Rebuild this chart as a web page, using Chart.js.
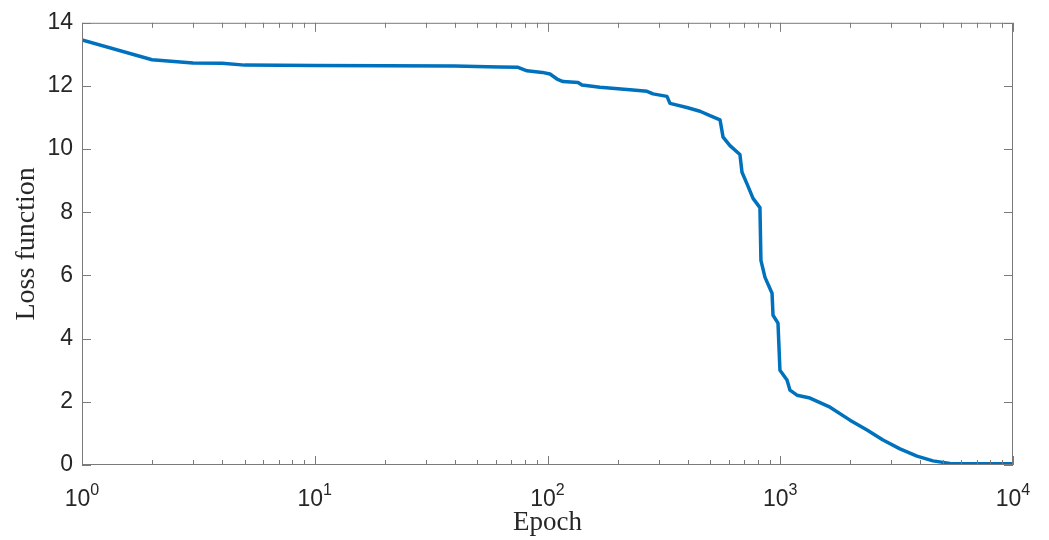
<!DOCTYPE html>
<html>
<head>
<meta charset="utf-8">
<script src="https://cdn.jsdelivr.net/npm/chart.js@4"></script>
<style>
  html, body { margin: 0; padding: 0; background: #fff; }
</style>
</head>
<body>
<canvas id="lossChart" width="1049" height="540"></canvas>
<script>
// Dữ liệu
const epochs = [1, 2, 3, 4, 5, 10, 20, 40, 55, 62.5, 74.7, 81.6, 95, 102.5, 109.9, 116.6, 135.3, 140.6,
    168.1, 232.9, 267.6, 284, 326, 336, 397, 452, 499, 551, 568, 608, 671, 685, 719, 764, 818, 826,
    860, 922, 931, 978, 997, 1069, 1101, 1180, 1342, 1636, 1994, 2360, 2763, 3269, 3868, 4530, 5361,
    7000, 10000];
const loss = [13.46, 12.83, 12.73, 12.72, 12.66, 12.65, 12.64, 12.63, 12.61, 12.6, 12.59, 12.48, 12.43,
    12.38, 12.22, 12.14, 12.11, 12.03, 11.96, 11.87, 11.83, 11.75, 11.67, 11.45, 11.32, 11.2, 11.06,
    10.93, 10.38, 10.11, 9.83, 9.27, 8.91, 8.44, 8.15, 6.48, 5.94, 5.44, 4.74, 4.49, 3.0, 2.69, 2.37,
    2.21, 2.12, 1.83, 1.42, 1.11, 0.79, 0.51, 0.28, 0.13, 0.05, 0.04, 0.04];
const xDecades = [0, 1, 2, 3, 4];
const yTicks = [0, 2, 4, 6, 8, 10, 12, 14];

const axisColor = '#7a7a7a';
const textColor = '#262626';

// Khung kiểu MATLAB: hộp + vạch chia hướng vào trong, nhãn 10^k
const boxPlugin = {
    id: 'box',
    afterDraw(chart) {
        const ctx = chart.ctx;
        const a = chart.chartArea;
        const xs = chart.scales.x, ys = chart.scales.y;
        ctx.save();
        ctx.strokeStyle = axisColor;
        ctx.lineWidth = 1;
        ctx.strokeRect(a.left + 0.5, a.top + 0.5, a.right - a.left - 1, a.bottom - a.top - 1);
        ctx.beginPath();
        // vạch trục x (chính + phụ)
        xDecades.forEach(k => {
            for (let m = 1; m <= 9; m++) {
                if (k === 4 && m > 1) break;
                const v = m * Math.pow(10, k);
                const px = Math.round(xs.getPixelForValue(v)) + 0.5;
                const len = m === 1 ? 9 : 5;
                ctx.moveTo(px, a.bottom); ctx.lineTo(px, a.bottom - len);
                ctx.moveTo(px, a.top); ctx.lineTo(px, a.top + len);
            }
        });
        // vạch trục y
        yTicks.forEach(v => {
            const py = Math.round(ys.getPixelForValue(v)) + 0.5;
            ctx.moveTo(a.left, py); ctx.lineTo(a.left + 9, py);
            ctx.moveTo(a.right, py); ctx.lineTo(a.right - 9, py);
        });
        ctx.stroke();

        // nhãn 10^k
        ctx.fillStyle = textColor;
        ctx.textBaseline = 'alphabetic';
        ctx.textAlign = 'left';
        xDecades.forEach(k => {
            const px = xs.getPixelForValue(Math.pow(10, k));
            ctx.font = '23px "Liberation Sans", Arial, sans-serif';
            const wBase = ctx.measureText('10').width;
            ctx.font = '16px "Liberation Sans", Arial, sans-serif';
            const wExp = ctx.measureText(String(k)).width;
            const x0 = px - (wBase + wExp) / 2;
            ctx.font = '23px "Liberation Sans", Arial, sans-serif';
            ctx.fillText('10', x0, 506);
            ctx.font = '16px "Liberation Sans", Arial, sans-serif';
            ctx.fillText(String(k), x0 + wBase, 495);
        });
        ctx.restore();
    }
};

const lossCtx = document.getElementById('lossChart').getContext('2d');

const lossChart = new Chart(lossCtx, {
    type: 'line',
    data: {
        datasets: [{
            label: 'Loss function',
            data: epochs.map((e, i) => ({ x: e, y: loss[i] })),
            borderColor: '#0072BD',
            borderWidth: 3.5,
            pointRadius: 0,
            tension: 0,
            fill: false,
            borderJoinStyle: 'round',
            borderCapStyle: 'round'
        }]
    },
    options: {
        responsive: false,
        animation: false,
        devicePixelRatio: 1,
        layout: {
            padding: { top: 22, right: 36, bottom: 0, left: 0 }
        },
        plugins: {
            legend: { display: false },
            tooltip: { enabled: false }
        },
        scales: {
            x: {
                type: 'logarithmic',
                min: 1,
                max: 10000,
                grid: { display: false },
                border: { display: false },
                ticks: { display: false },
                title: {
                    display: true,
                    text: 'Epoch',
                    color: textColor,
                    font: { family: '"Liberation Serif", "Times New Roman", serif', size: 27 },
                    padding: { top: 0, bottom: 1 }
                },
                afterFit(scale) { scale.height = 75; }
            },
            y: {
                min: 0,
                max: 14,
                grid: { display: false, drawTicks: false },
                border: { display: false },
                ticks: {
                    stepSize: 2,
                    padding: 9,
                    color: textColor,
                    font: { family: '"Liberation Sans", Arial, sans-serif', size: 23 }
                },
                title: {
                    display: true,
                    text: 'Loss function',
                    color: textColor,
                    font: { family: '"Liberation Serif", "Times New Roman", serif', size: 28 },
                    padding: { top: 10, bottom: 0 }
                },
                afterFit(scale) { scale.width = 82; }
            }
        }
    },
    plugins: [boxPlugin]
});
</script>
</body>
</html>
